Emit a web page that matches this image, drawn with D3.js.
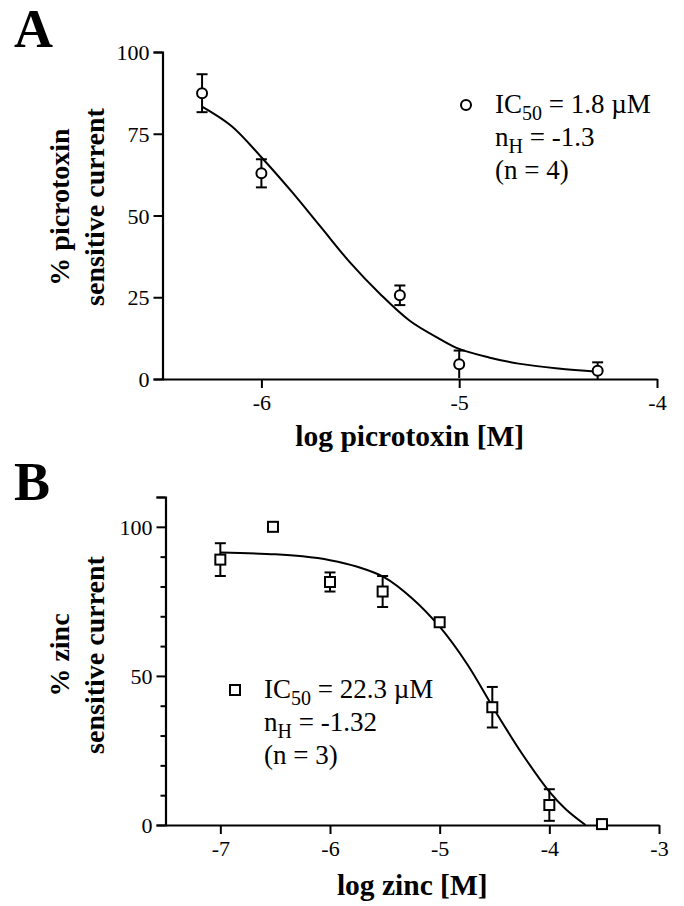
<!DOCTYPE html>
<html>
<head>
<meta charset="utf-8">
<script src="https://cdn.jsdelivr.net/npm/d3@7"></script>
<style>
  body { margin: 0; background: #fff; }
  svg text { font-family: "Liberation Serif", "Times New Roman", Times, serif !important; fill: #000; }
</style>
</head>
<body>
<svg id="fig" width="684" height="906" font-family="Liberation Serif"></svg>
<script>
// panel A - picrotoxin
var picroLogConc = [-6.3, -6, -5.3, -5, -4.3];
var picroMean = [87.4, 62.9, 25.6, 4.5, 2.5];
var picroSem = [5.8, 4.3, 3, 4.2, 2.6];
// fitted curve
var picroFitX = [-6.3, -6.15, -6, -5.85, -5.7, -5.55, -5.4, -5.25, -5.1, -5, -4.85, -4.7, -4.5, -4.3];
var picroFitY = [83.3, 77.3, 67.8, 57.5, 46.5, 35.5, 26, 17.8, 12.3, 9.2, 6.6, 4.7, 3.2, 2.2];
var picroXTicks = [-6, -5, -4];
var picroYTicks = [0, 25, 50, 75, 100];

// panel B - zinc
var zincLogConc = [-7, -6.52, -6, -5.52, -5, -4.52, -4, -3.52];
var zincMean = [89, 100, 81.5, 78.3, 68, 39.5, 6.7, 0.3];
var zincSem = [5.5, 0, 3.2, 5.2, 0, 6.8, 5.3, 0];
var zincFitX = [-7, -6.5, -6.25, -6, -5.75, -5.5, -5.25, -5, -4.75, -4.5, -4.25, -4, -3.85, -3.67];
var zincFitY = [91.4, 90.8, 90.1, 88.8, 86.6, 83, 76, 66.5, 54, 38.6, 24, 11.2, 5.3, 0];
var zincXTicks = [-7, -6, -5, -4, -3];
var zincYTicks = d3.range(0, 111, 10);
var zincYLabels = [0, 50, 100];

var serif = '"Liberation Serif", "Times New Roman", serif';
var svg = d3.select("#fig");

function panel(o) {
  var x = d3.scaleLinear().domain(o.xDomain).range(o.xRange);
  var y = d3.scaleLinear().domain(o.yDomain).range(o.yRange);
  var g = svg.append("g");

  // axes
  var xAxis = d3.axisBottom(x).tickValues(o.xTicks).tickSize(9).tickSizeOuter(0)
    .tickPadding(6).tickFormat(d => String(d));
  var gx = g.append("g").attr("transform", `translate(0,${o.yRange[0]})`).call(xAxis);
  var yAxis = d3.axisLeft(y).tickValues(o.yTicks).tickSizeOuter(0).tickPadding(4)
    .tickSize(9).tickFormat(d => o.yLabels.indexOf(d) >= 0 ? String(d) : "");
  var gy = g.append("g").attr("transform", `translate(${o.xRange[0]},0)`).call(yAxis);
  gy.selectAll(".tick line").attr("x2", d => o.yLabels.indexOf(d) >= 0 || d == o.yDomain[1] ? -9 : -5);
  [gx, gy].forEach(a => {
    a.attr("font-family", serif);
    a.select(".domain").attr("stroke-width", 2.2);
    a.selectAll(".tick line").attr("stroke-width", 2);
    a.selectAll("text").style("font-size", "22px").style("font-family", serif).attr("fill", "#000");
  });
  gy.selectAll("text").attr("dy", "0.35em");

  // fitted curve
  var pts = o.fitX.map((v, i) => [v, o.fitY[i]]);
  g.append("path")
    .attr("d", d3.line().x(d => x(d[0])).y(d => y(d[1])).curve(d3.curveCatmullRom.alpha(0.5))(pts))
    .attr("fill", "none").attr("stroke", "#000").attr("stroke-width", 2);

  // error bars
  var eb = g.append("g").attr("stroke", "#000").attr("stroke-width", 2);
  o.xs.forEach((v, i) => {
    if (!o.sem[i]) return;
    var cx = x(v), hi = y(o.ys[i] + o.sem[i]), lo = y(Math.max(0, o.ys[i] - o.sem[i]));
    eb.append("line").attr("x1", cx).attr("x2", cx).attr("y1", hi).attr("y2", lo);
    eb.append("line").attr("x1", cx - 5.5).attr("x2", cx + 5.5).attr("y1", hi).attr("y2", hi);
    if (o.ys[i] - o.sem[i] > 0.5)
      eb.append("line").attr("x1", cx - 5.5).attr("x2", cx + 5.5).attr("y1", lo).attr("y2", lo);
  });

  // markers
  o.xs.forEach((v, i) => marker(g, o.shape, x(v), y(o.ys[i])));

  // axis titles
  o.yTitle.forEach((t, i) => {
    g.append("text")
      .attr("transform", `translate(${o.yTitleX[i]},${o.yTitleY}) rotate(-90)`)
      .attr("text-anchor", "middle")
      .style("font-family", serif)
      .style("font-size", "28px").style("font-weight", "bold")
      .text(t);
  });
  g.append("text")
    .attr("x", (o.xRange[0] + o.xRange[1]) / 2).attr("y", o.xTitleY)
    .attr("text-anchor", "middle")
    .style("font-family", serif)
    .style("font-size", "29.5px").style("font-weight", "bold")
    .text(o.xTitle);

  // panel letter
  g.append("text").attr("x", 14).attr("y", o.letterY)
    .style("font-family", serif)
    .style("font-size", "54px").style("font-weight", "bold").text(o.letter);

  // legend
  marker(g, o.shape, o.legX, o.legY - 8);
  var lt = g.append("text").attr("x", o.legX + 29).attr("y", o.legY)
    .style("font-family", serif).style("font-size", "27px");
  lt.append("tspan").text("IC");
  lt.append("tspan").attr("dy", 7).style("font-size", "20px").text("50");
  lt.append("tspan").attr("dy", -7).text(" = " + o.ic50 + " \u00b5M");
  var l2 = g.append("text").attr("x", o.legX + 29).attr("y", o.legY + 33)
    .style("font-family", serif).style("font-size", "27px");
  l2.append("tspan").text("n");
  l2.append("tspan").attr("dy", 7).style("font-size", "20px").text("H");
  l2.append("tspan").attr("dy", -7).text(" = " + o.nH);
  g.append("text").attr("x", o.legX + 29).attr("y", o.legY + 66)
    .style("font-family", serif).style("font-size", "27px")
    .text("(n = " + o.n + ")");
}

function marker(g, shape, cx, cy) {
  if (shape == "circle")
    g.append("circle").attr("cx", cx).attr("cy", cy).attr("r", 5)
      .attr("fill", "#fff").attr("stroke", "#000").attr("stroke-width", 2);
  else
    g.append("rect").attr("x", cx - 5).attr("y", cy - 5).attr("width", 10).attr("height", 10)
      .attr("fill", "#fff").attr("stroke", "#000").attr("stroke-width", 2);
}

panel({
  letter: "A", letterY: 47, shape: "circle",
  xDomain: [-6.5, -4], xRange: [162.5, 657],
  yDomain: [0, 100], yRange: [379, 52],
  xTicks: picroXTicks, yTicks: picroYTicks, yLabels: picroYTicks,
  xs: picroLogConc, ys: picroMean, sem: picroSem,
  fitX: picroFitX, fitY: picroFitY,
  yTitle: ["% picrotoxin", "sensitive current"], yTitleX: [69, 104], yTitleY: 207,
  xTitle: "log picrotoxin [M]", xTitleY: 446,
  legX: 466, legY: 113, ic50: "1.8", nH: "-1.3", n: 4
});

panel({
  letter: "B", letterY: 500, shape: "square",
  xDomain: [-7.5, -3], xRange: [165.5, 659],
  yDomain: [0, 110], yRange: [825, 497],
  xTicks: zincXTicks, yTicks: zincYTicks, yLabels: zincYLabels,
  xs: zincLogConc, ys: zincMean, sem: zincSem,
  fitX: zincFitX, fitY: zincFitY,
  yTitle: ["% zinc", "sensitive current"], yTitleX: [69, 104], yTitleY: 655,
  xTitle: "log zinc [M]", xTitleY: 895,
  legX: 235, legY: 698, ic50: "22.3", nH: "-1.32", n: 3
});
</script>
</body>
</html>
